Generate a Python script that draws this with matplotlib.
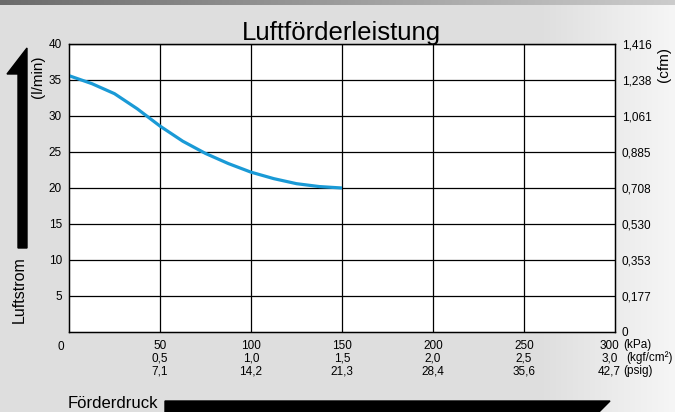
import numpy as np
import matplotlib
matplotlib.use("Agg")
import matplotlib.pyplot as plt
from matplotlib.patches import Polygon
import matplotlib.transforms as mtransforms

plt.rcParams['font.family'] = ['Liberation Sans', 'DejaVu Sans']

# Data
pressure_kpa = [0, 12.5, 25, 37.5, 50, 62.5, 75, 87.5, 100, 112.5, 125, 137.5, 150]
flow_lmin = [35.6, 34.5, 33.1, 31.0, 28.6, 26.5, 24.8, 23.4, 22.2, 21.3, 20.6, 20.2, 20.0]

x_ticks = [50, 100, 150, 200, 250]
x_labels = ["50\n0,5\n7,1", "100\n1,0\n14,2", "150\n1,5\n21,3",
            "200\n2,0\n28,4", "250\n2,5\n35,6"]
x_last_label = "300\n3,0\n42,7"
y_ticks = [5, 10, 15, 20, 25, 30, 35, 40]
cfm_ticks = [0, 5, 10, 15, 20, 25, 30, 35, 40]
cfm_labels = ["0", "0,177", "0,353", "0,530", "0,708", "0,885", "1,061", "1,238", "1,416"]

W, H = 675, 412


def px(x, y):
    return x / W, 1 - y / H


fig = plt.figure(figsize=(6.75, 4.12), dpi=100)
fig.patch.set_facecolor('#dedede')

# background gradient (lighter to the right) and the top band
bg = fig.add_axes([0, 0, 1, 1], zorder=-10)
bg.axis('off')
ramp = np.clip((np.arange(W) - 540) / 135.0, 0, 1)
shade = 0.872 + (0.965 - 0.872) * ramp
img = np.dstack([np.tile(shade, (H, 1))] * 3)
band = np.linspace(0.42, 0.80, W)
img[:5, :, :] = band[None, :, None]
bg.imshow(img, aspect='auto', extent=[0, 1, 0, 1], interpolation='bilinear')
bg.set_xlim(0, 1)
bg.set_ylim(0, 1)

# main axes
ax = fig.add_axes([69 / W, 1 - 332 / H, 546 / W, 288 / H])
ax.set_facecolor('white')
ax.plot(pressure_kpa, flow_lmin, color='#1a9ad6', lw=2.3, solid_capstyle='butt', zorder=3)
ax.set_xlim(0, 300)
ax.set_ylim(0, 40)
ax.set_xticks(x_ticks)
ax.set_xticklabels(x_labels, fontsize=8.5, linespacing=1.12)
ax.set_yticks(y_ticks)
ax.set_yticklabels([str(v) for v in y_ticks], fontsize=8.5)
ax.tick_params(axis='both', length=0)
ax.tick_params(axis='x', pad=5.5)
ax.tick_params(axis='y', pad=5)
ax.grid(True, color='black', lw=0.9)
for s in ax.spines.values():
    s.set_linewidth(1.0)

# last x label, right aligned at the axis end
off = mtransforms.ScaledTranslation(6 / 100, -5.5 / 72, fig.dpi_scale_trans)
ax.text(300, 0, x_last_label, transform=ax.get_xaxis_transform() + off,
        ha='right', va='top', multialignment='center', fontsize=8.5, linespacing=1.12)

ax2 = ax.twinx()
ax2.set_ylim(0, 40)
ax2.set_yticks(cfm_ticks)
ax2.set_yticklabels(cfm_labels, fontsize=8.5)
ax2.tick_params(axis='y', length=0, pad=5)

# free texts
fig.text(*px(341, 40), "Luftförderleistung", ha='center', va='baseline', fontsize=18.5)
fig.text(*px(61, 347), "0", ha='center', va='center', fontsize=8.5)
fig.text(*px(38, 77), "(l/min)", rotation=90, ha='center', va='center', fontsize=11)
fig.text(*px(664, 64), "(cfm)", rotation=90, ha='center', va='center', fontsize=11)
fig.text(*px(19, 290), "Luftstrom", rotation=90, ha='center', va='center', fontsize=11.5)
fig.text(*px(68, 404), "Förderdruck", ha='left', va='center', fontsize=12)
fig.text(*px(623, 345), "(kPa)", ha='left', va='center', fontsize=8.5)
fig.text(*px(626, 358), "(kgf/cm²)", ha='left', va='center', fontsize=8.5)
fig.text(*px(623, 371), "(psig)", ha='left', va='center', fontsize=8.5)

# arrows
up = [px(18, 248), px(27, 248), px(27, 48), px(7, 74), px(18, 74)]
fig.patches.append(Polygon(up, closed=True, color='black', transform=fig.transFigure))
right = [px(165, 401), px(610, 401), px(596, 415), px(165, 415)]
fig.patches.append(Polygon(right, closed=True, color='black', transform=fig.transFigure))

fig.savefig('out.png', dpi=100, facecolor=fig.get_facecolor())
